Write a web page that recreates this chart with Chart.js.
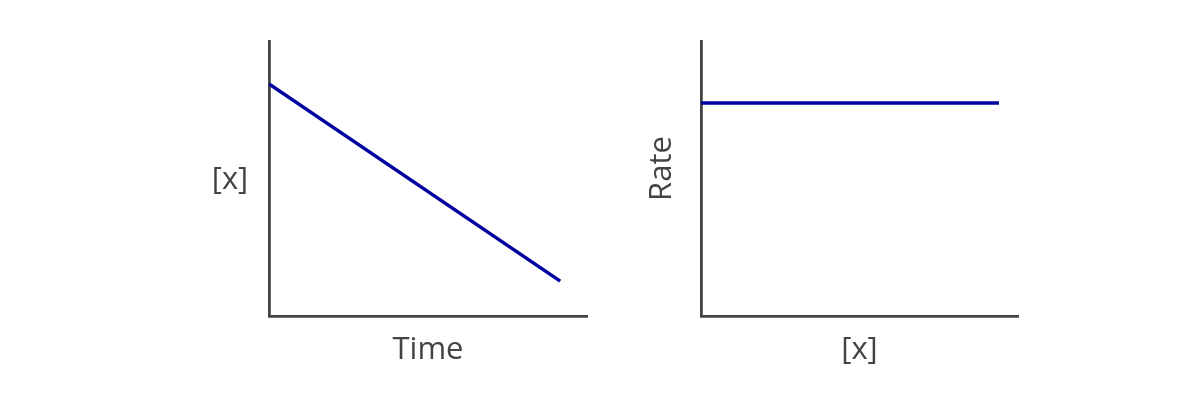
<!DOCTYPE html>
<html>
<head>
<meta charset="utf-8">
<script src="https://cdn.jsdelivr.net/npm/chart.js@4.4.0/dist/chart.umd.min.js"></script>
<style>
  html, body { margin: 0; padding: 0; background: #fff; }
  #wrap { position: relative; width: 1200px; height: 400px; }
  .box { position: absolute; top: 0; width: 600px; height: 400px; }
</style>
</head>
<body>
<div id="wrap">
  <div class="box" style="left:0"><canvas id="c1" width="600" height="400"></canvas></div>
  <div class="box" style="left:600px"><canvas id="c2" width="600" height="400"></canvas></div>
</div>
<script>
// Left chart: [x] vs Time (zero-order decay)
const leftX = [0, 1];
const leftY = [0.844, 0.127];
// Right chart: Rate vs [x] (constant)
const rightX = [0, 1];
const rightY = [0.775, 0.775];

const titles = {
  left:  { x: 'Time', y: '[x]' },
  right: { x: '[x]',  y: 'Rate' }
};

const TEXT = '#444444';
const AXIS = '#444444';
const LINE = '#0000a0';
const FONT = '31px "Open Sans", "Noto Sans", sans-serif';

function pts(xs, ys) { return xs.map((x, i) => ({ x: x, y: ys[i] })); }

const labelPlugin = {
  id: 'labels',
  afterDraw(chart, args, opts) {
    const ctx = chart.ctx;
    const a = chart.chartArea;
    ctx.save();
    ctx.fillStyle = TEXT;
    ctx.font = FONT;
    ctx.textAlign = 'center';
    ctx.textBaseline = 'alphabetic';
    // x title
    ctx.fillText(opts.xTitle, (a.left + a.right) / 2, a.bottom + 43);
    // y title
    if (opts.yRotate) {
      ctx.translate(a.left - 30, (a.top + a.bottom) / 2 - 10);
      ctx.rotate(-Math.PI / 2);
      ctx.fillText(opts.yTitle, 0, 0);
    } else {
      ctx.fillText(opts.yTitle, a.left - 39, (a.top + a.bottom) / 2 + 10);
    }
    ctx.restore();
  }
};

function makeChart(id, xs, ys, xMax, pad, t, yRotate) {
  return new Chart(document.getElementById(id), {
    type: 'line',
    data: {
      datasets: [{
        data: pts(xs, ys),
        borderColor: LINE,
        borderWidth: 3.5,
        pointRadius: 0,
        fill: false,
        tension: 0
      }]
    },
    options: {
      responsive: false,
      animation: false,
      layout: { padding: pad },
      plugins: {
        legend: { display: false },
        tooltip: { enabled: false },
        labels: { xTitle: t.x, yTitle: t.y, yRotate: yRotate }
      },
      scales: {
        x: {
          type: 'linear', min: 0, max: xMax,
          grid: { display: false, drawTicks: false },
          border: { display: true, color: AXIS, width: 2.8 },
          ticks: { display: false },
          afterFit: s => { s.height = 0; }
        },
        y: {
          type: 'linear', min: 0, max: 1,
          grid: { display: false, drawTicks: false },
          border: { display: true, color: AXIS, width: 2.8 },
          ticks: { display: false },
          afterFit: s => { s.width = 0; }
        }
      }
    },
    plugins: [labelPlugin]
  });
}

makeChart('c1', leftX, leftY, 1.092, { left: 269, top: 41, right: 13, bottom: 84 }, titles.left, false);
makeChart('c2', rightX, rightY, 1.064, { left: 101, top: 41, right: 182, bottom: 84 }, titles.right, true);
</script>
</body>
</html>
